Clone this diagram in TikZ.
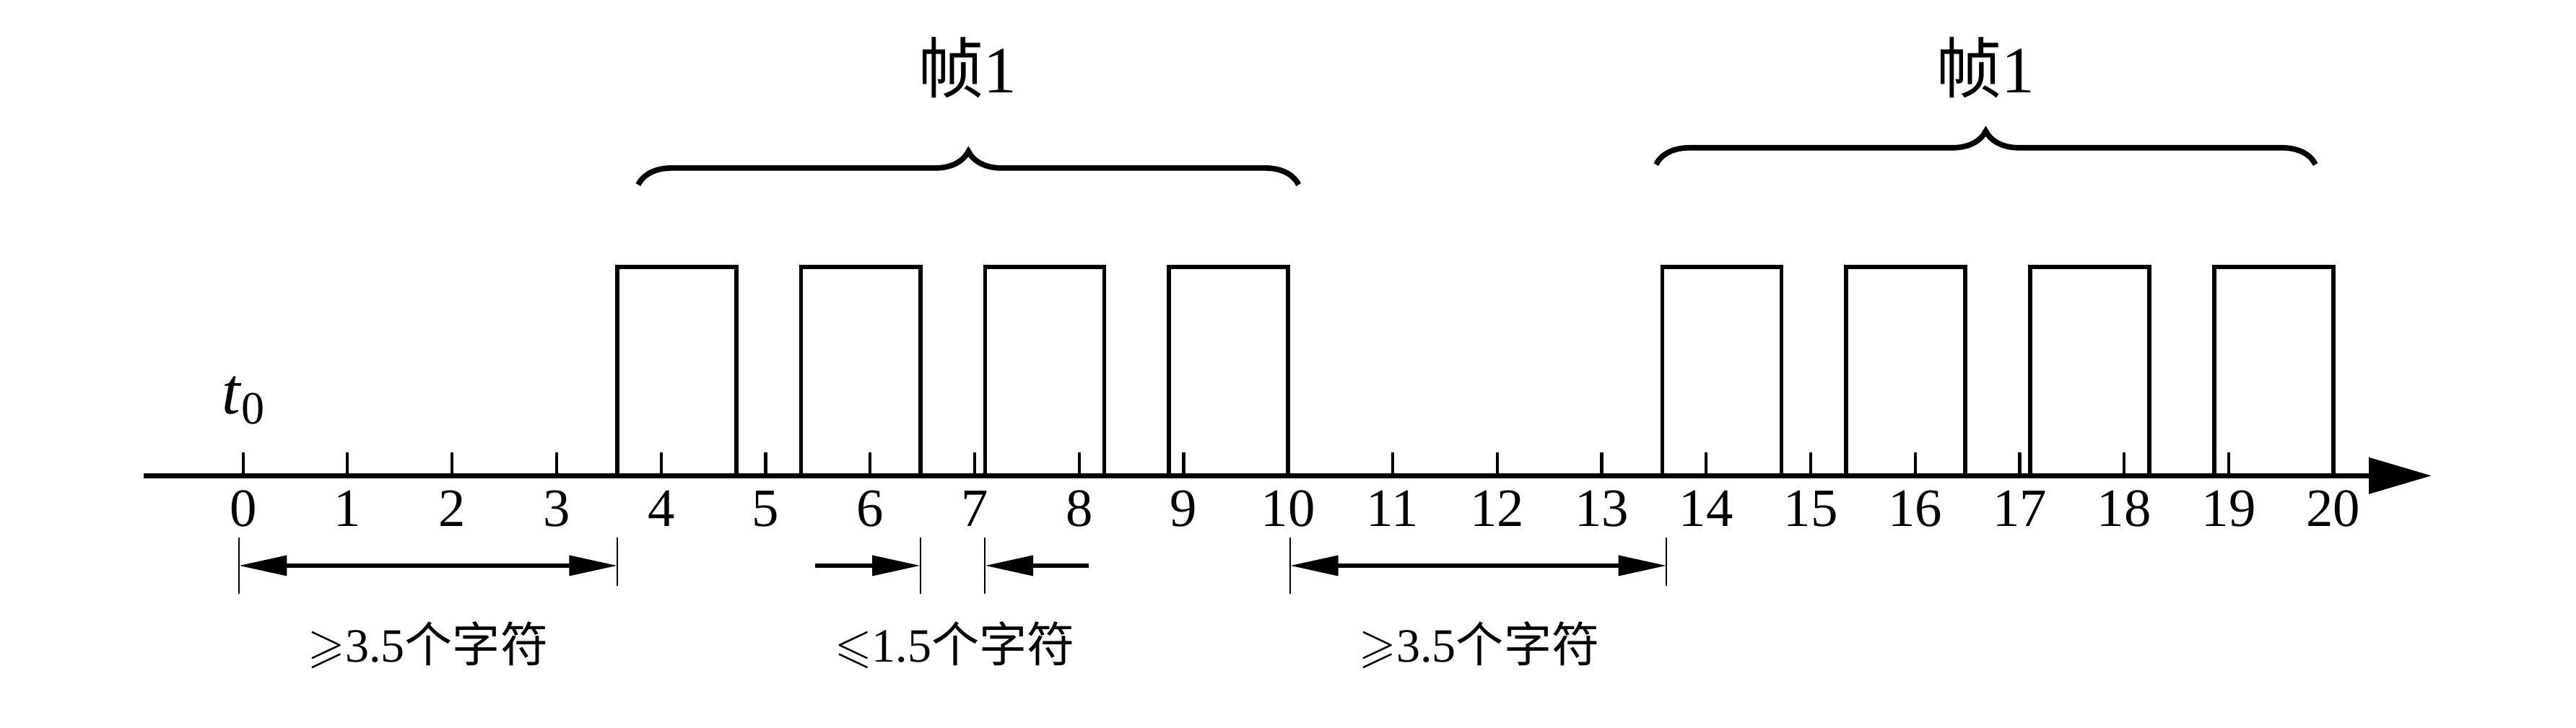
\documentclass[tikz,border=0pt]{standalone}
\usepackage{amssymb}
\usepackage{fontspec}
\setmainfont{Liberation Serif}
\newfontfamily\cjk{Noto Sans CJK SC}
\usetikzlibrary{arrows.meta,decorations.pathreplacing}
\tikzset{
         ticmark/.style={line width=0.8pt},
         pulse/.style={line width=1.1pt},
         dimline/.style={line width=0.4pt},
         dimarrow/.style={line width=1pt},
         framebrace/.style={decorate,decoration={brace,amplitude=0.32cm},line width=1.5pt},
         numlabel/.style={font=\fontsize{14.7}{16}\selectfont},
         gaplabel/.style={font=\fontsize{13}{15}\selectfont},
         framelabel/.style={font=\fontsize{18}{20}\selectfont}
        }

\begin{document}
\begin{tikzpicture}[>={Triangle[length=0.46cm,width=0.19cm]}]
\useasboundingbox(-2.326,-2.409)rectangle(22.323,4.555);
%time axis with ticks and numbers
\draw[line width=1.3pt,-{Triangle[length=0.6cm,width=0.34cm]}](-0.95,0)--(20.94,0);
\foreach \i in {0,...,20}{
 \draw[ticmark](\i,0)--(\i,0.225);
 \node[numlabel](n\i)at(\i,-0.316){\i};
}
\node[framelabel](tzero)at(0.01,0.72){\textit{t}\textsubscript{0}};
%characters of the two frames
\foreach \x in {3.58,5.34,7.10,8.86}{
 \draw[pulse](\x,0)rectangle++(1.14,2);
 \draw[pulse](\x+10,0)rectangle++(1.14,2);
}
%frame braces
\draw[framebrace](3.78,2.786)--(10.10,2.786);
\draw[framebrace](13.52,2.98)--(19.83,2.98);
\node[framelabel](frameA)at(6.93,3.905){{\cjk 帧}1};
\node[framelabel](frameB)at(16.67,3.905){{\cjk 帧}1};
%dimension lines
\draw[dimline](-0.04,-0.59)--(-0.04,-1.13);
\draw[dimline](3.58,-0.59)--(3.58,-1.055);
\draw[dimline](6.48,-0.59)--(6.48,-1.13);
\draw[dimline](7.10,-0.59)--(7.10,-1.13);
\draw[dimline](10.02,-0.59)--(10.02,-1.13);
\draw[dimline](13.62,-0.59)--(13.62,-1.055);
\coordinate(idleA)at(-0.04,-0.861);
\coordinate(idleB)at(3.58,-0.861);
\coordinate(gapL)at(5.475,-0.861);
\coordinate(gapM)at(6.48,-0.861);
\coordinate(gapN)at(7.10,-0.861);
\coordinate(gapR)at(8.09,-0.861);
\coordinate(idleC)at(10.02,-0.861);
\coordinate(idleD)at(13.62,-0.861);
\draw[dimarrow,<->](idleA)--(idleB);
\draw[dimarrow,->](gapL)--(gapM);
\draw[dimarrow,->](gapR)--(gapN);
\draw[dimarrow,<->](idleC)--(idleD);
%labels
\node[gaplabel](gapA)at(1.77,-1.62){$\geqslant$3.5{\cjk 个字符}};
\node[gaplabel](gapB)at(6.81,-1.62){$\leqslant$1.5{\cjk 个字符}};
\node[gaplabel](gapC)at(11.83,-1.62){$\geqslant$3.5{\cjk 个字符}};
\end{tikzpicture}
\end{document}
